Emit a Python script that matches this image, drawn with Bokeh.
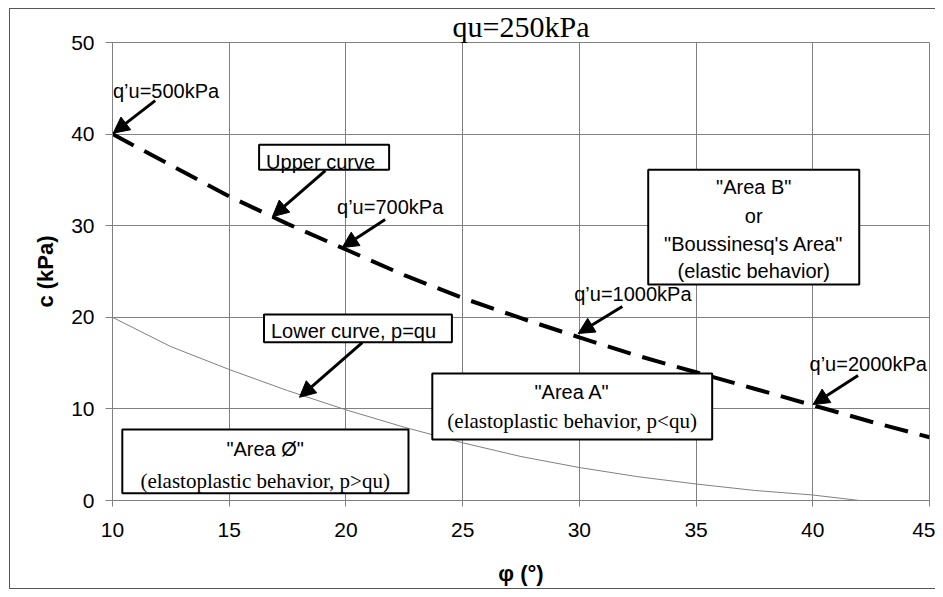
import numpy as np
from bokeh.plotting import figure
from bokeh.models import (Range1d, Label, BoxAnnotation, Arrow, NormalHead,
                          FixedTicker, ColumnDataSource)
from bokeh.embed import file_html
from bokeh.resources import INLINE

# ---- data ----
phi_upper = [10, 12.5, 15, 17.5, 20, 22.5, 25, 27.5, 30, 32.5, 35, 37.5, 40, 42.5, 45]
c_upper = [40.0, 36.6, 33.2, 30.2, 27.4, 24.6, 22.1, 19.9, 17.8, 15.8, 14.0, 12.2, 10.4, 8.6, 6.9]
phi_lower = [10, 12.5, 15, 17.5, 20, 22.5, 25, 27.5, 30, 32.5, 35, 37.5, 40, 42]
c_lower = [20.0, 16.8, 14.3, 12.0, 9.9, 8.0, 6.3, 4.8, 3.6, 2.6, 1.8, 1.1, 0.6, 0.0]
x_ticks = [10, 15, 20, 25, 30, 35, 40, 45]
y_ticks = [0, 10, 20, 30, 40, 50]

SANS = "Liberation Sans"
SERIF = "Liberation Serif"
W, H = 935, 589
EDGE = "#555555"

p = figure(width=W, height=H, output_backend="svg", toolbar_location=None,
           x_range=Range1d(10, 45), y_range=Range1d(0, 50),
           min_border_left=112, min_border_right=6, min_border_top=42,
           min_border_bottom=89)
p.background_fill_color = "white"
p.border_fill_color = None
p.outline_line_color = "#808080"
p.outline_line_width = 1

# outer chart border (left, top, bottom edges) drawn behind the transparent canvas border
p.styles = {
    "background-color": "white",
    "background-image": f"linear-gradient({EDGE},{EDGE}), linear-gradient({EDGE},{EDGE}), linear-gradient({EDGE},{EDGE})",
    "background-size": f"1px {H - 8}px, {W}px 1px, {W}px 1px",
    "background-position": f"9px 8px, 9px 8px, 9px {H - 1}px",
    "background-repeat": "no-repeat",
}

p.title.text = "qu=250kPa"
p.title.align = "center"
p.title.text_font = SERIF
p.title.text_font_size = "30px"
p.title.text_font_style = "normal"
p.title.text_color = "black"
p.title.standoff = 0
p.title.offset = 0

for ax, ticks in ((p.xaxis, x_ticks), (p.yaxis, y_ticks)):
    ax.ticker = FixedTicker(ticks=ticks)
    ax.axis_line_color = "#808080"
    ax.major_tick_line_color = "#808080"
    ax.major_tick_in = 0
    ax.minor_tick_line_color = None
    ax.major_label_text_font = SANS
    ax.major_label_text_font_size = "21px"
    ax.major_label_text_color = "black"
    ax.axis_label_text_font = SANS
    ax.axis_label_text_font_size = "22px"
    ax.axis_label_text_font_style = "bold"
    ax.axis_label_text_color = "black"
p.xaxis.major_tick_out = 6
p.xaxis.major_label_standoff = 16
p.xaxis.axis_label = "φ (°)"
p.xaxis.axis_label_standoff = 21
p.yaxis.major_tick_out = 7
p.yaxis.major_label_standoff = 11
p.yaxis.axis_label = "c (kPa)"
p.yaxis.axis_label_standoff = 10

p.xgrid.ticker = FixedTicker(ticks=x_ticks)
p.ygrid.ticker = FixedTicker(ticks=y_ticks)
for g in (p.xgrid, p.ygrid):
    g.grid_line_color = "#808080"
    g.grid_line_width = 1

# ---- curves ----
up = ColumnDataSource(dict(x=phi_upper, y=c_upper))
lo = ColumnDataSource(dict(x=phi_lower, y=c_lower))
p.line("x", "y", source=lo, line_color="#808080", line_width=1)
p.line("x", "y", source=up, line_color="black", line_width=4, line_dash="24 12")

# ---- boxes ----
def box(l, r, t, b):
    p.add_layout(BoxAnnotation(left=l, right=r, top=t, bottom=b,
                               fill_color="white", fill_alpha=1,
                               line_color="black", line_alpha=1, line_width=2))

box(16.28, 21.85, 38.85, 36.12)   # Upper curve
box(32.95, 41.99, 36.12, 23.57)   # Area B
box(16.49, 24.54, 20.30, 17.28)   # Lower curve
box(23.70, 35.69, 13.86, 6.66)    # Area A
box(10.42, 22.68, 7.75, 0.80)     # Area Ø

def lab(x, y, text, font=SANS, size="20px", align="left", base="middle"):
    p.add_layout(Label(x=x, y=y, text=text, text_font=font, text_font_size=size,
                       text_align=align, text_baseline=base, text_color="black"))

# point labels
lab(10.02, 44.74, "q’u=500kPa")
lab(19.62, 32.09, "q’u=700kPa")
lab(29.78, 22.59, "q’u=1000kPa")
lab(39.86, 14.95, "q’u=2000kPa")

# box texts
lab(16.58, 36.9, "Upper curve")
lab(16.79, 18.52, "Lower curve, p=qu")
for yy, t in ((34.19, '"Area B"'), (31.10, "or"), (28.01, '"Boussinesq\'s Area"'), (25.10, "(elastic behavior)")):
    lab(37.47, yy, t, align="center")
lab(29.69, 11.82, '"Area A"', align="center")
lab(29.69, 8.73, "(elastoplastic behavior, p<qu)", font=SERIF, size="21px", align="center")
lab(16.54, 5.64, '"Area Ø"', align="center")
lab(16.54, 2.18, "(elastoplastic behavior, p>qu)", font=SERIF, size="21px", align="center")

# arrows
def arrow(x0, y0, x1, y1):
    p.add_layout(Arrow(end=NormalHead(size=16, fill_color="black", line_color="black"),
                       x_start=x0, y_start=y0, x_end=x1, y_end=y1,
                       line_color="black", line_width=3))

arrow(11.83, 43.65, 10.03, 40.10)
arrow(19.12, 36.01, 16.85, 30.99)
arrow(21.68, 30.67, 19.84, 27.61)
arrow(31.84, 21.17, 29.95, 18.23)
arrow(41.94, 13.64, 40.01, 10.48)
arrow(20.70, 17.24, 18.01, 11.27)

open("out.html", "w").write(file_html(p, INLINE))
